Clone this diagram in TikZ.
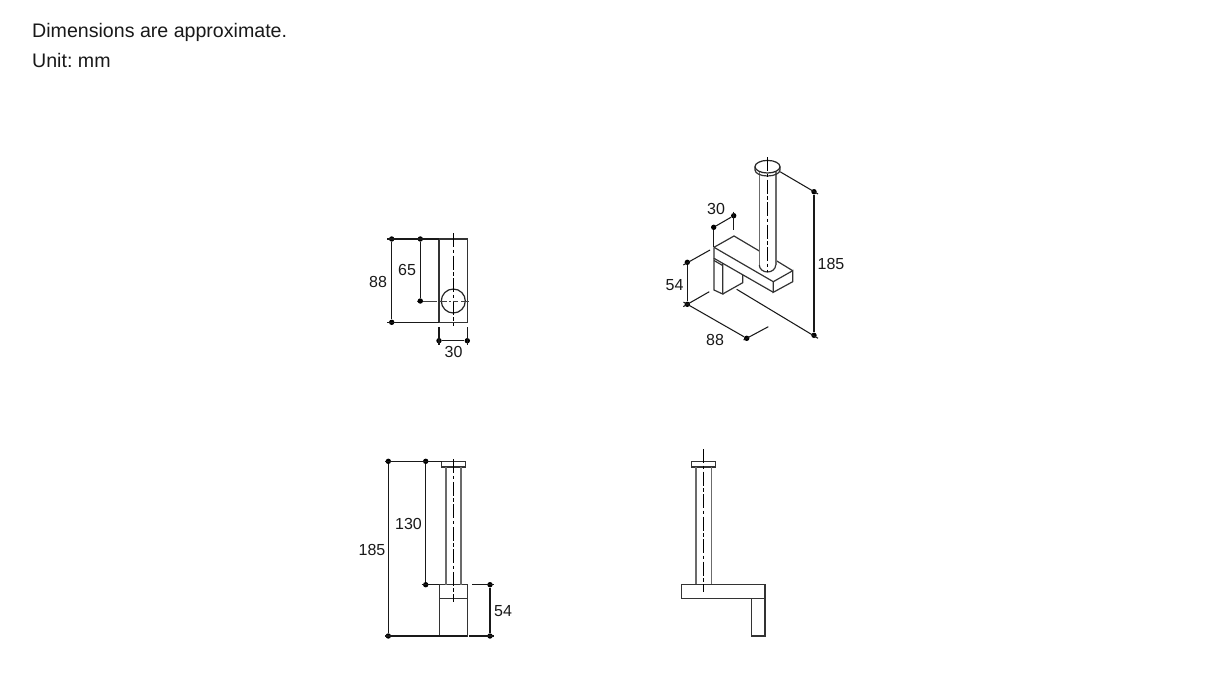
\documentclass[tikz,border=0pt]{standalone}
\usepackage{fontspec}
\usetikzlibrary{shapes.geometric}
\setmainfont{Liberation Sans}
\frenchspacing
\tikzset{
  ln/.style={line width=1.2pt,draw=black!80},
  gln/.style={line width=1.6pt,draw=black!58},
  dim/.style={line width=1.05pt,draw=black!90},
  cl/.style={line width=1pt,draw=black,dash pattern=on 14pt off 2.5pt on 3.5pt off 2.5pt},
  clh/.style={line width=1pt,draw=black!75,dash pattern=on 20pt off 3pt on 7pt off 2pt on 2pt off 2pt on 5pt off 3pt on 8pt off 3pt},
  dot/.style={circle,fill=black,inner sep=0pt,minimum size=5.4pt},
  lab/.style={inner sep=0pt,font=\fontsize{16}{18}\selectfont,text=black!90},
  txt/.style={inner sep=0pt,anchor=base west,font=\fontsize{19.6}{22}\selectfont,text=black!90}
}
\begin{document}
\begin{tikzpicture}[x=1pt,y=-1pt]
\useasboundingbox (0,0) rectangle (1218,683);
\fill[white] (0,0) rectangle (1218,683);
\node[txt] (t1) at (32,37) {Dimensions are approximate.};
\node[txt] (t2) at (32,67) {Unit: mm};

% --- top-left view
\coordinate (aTL) at (439,239); \coordinate (aTR) at (467.3,239);
\coordinate (aBL) at (439,322.3); \coordinate (aBR) at (467.3,322.3);
\draw[ln] (aTL) rectangle (aBR);
\node[circle,draw=black!85,line width=1.2pt,minimum size=24pt,inner sep=0pt] (aC) at (453.3,301) {};
\coordinate (aV1) at (453.3,233); \coordinate (aV2) at (453.3,326);
\coordinate (aH1) at (417,301); \coordinate (aH2) at (470.7,301);
\draw[cl] (aV1) -- (aV2);
\draw[clh] (aH1) -- (aH2);
\node[dot] (a1) at (391.7,239) {}; \node[dot] (a2) at (420.3,239) {};
\node[dot] (a3) at (420.3,301) {}; \node[dot] (a4) at (391.7,322.3) {};
\node[dot] (a5) at (439,340.7) {}; \node[dot] (a6) at (467.3,340.7) {};
\coordinate (aE1) at (387,239); \coordinate (aE2) at (387,322.3);
\coordinate (aE3) at (439,327); \coordinate (aE4) at (467.3,327);
\coordinate (aE5) at (439,345); \coordinate (aE6) at (467.3,345);
\draw[dim] (aE1) -- (aTL);
\draw[dim] (aE2) -- (aBL);
\draw[dim] (a1) -- (a4);
\draw[dim] (a2) -- (a3);
\draw[dim] (aE3) -- (aE5);
\draw[dim] (aE4) -- (aE6);
\draw[dim] (a5) -- (a6);
\node[lab] (l88a) at (378,281.5) {88};
\node[lab] (l65) at (407,270) {65};
\node[lab] (l30a) at (453.5,351.7) {30};

% --- isometric view
\coordinate (A) at (714,247.3); \coordinate (B) at (734,236);
\coordinate (C) at (792.7,270.7); \coordinate (D) at (773.3,281.7);
\coordinate (Ab) at (714,258.3); \coordinate (Db) at (773.3,292.3);
\coordinate (Cb) at (792.7,281.7);
\coordinate (W1) at (714,290); \coordinate (W2) at (722.7,294);
\coordinate (W3) at (722.7,263); \coordinate (W4) at (742.7,275);
\coordinate (W5) at (742.7,282.7);
\coordinate (W6) at (714,260.5); \coordinate (W7) at (722.7,265.5);
\coordinate (Bc) at (759.3,251); \coordinate (Cc) at (775.7,260.3);
\draw[ln] (A) -- (D) -- (C) -- (Cb) -- (Db) -- (D);
\draw[ln] (A) -- (Ab) -- (Db);
\draw[ln] (A) -- (B) -- (Bc);
\draw[ln] (Cc) -- (C);
\draw[ln] (Ab) -- (W1) -- (W2) -- (W3);
\draw[ln] (W2) -- (W5) -- (W4);
\draw[ln] (W6) -- (W7);
\draw[gln] (759.3,172) -- (759.3,265);
\draw[gln] (775.7,172) -- (775.7,265);
\draw[ln] (759.3,265) arc[start angle=180,end angle=0,x radius=8.2,y radius=7];
\draw[ln] (755,166.7) -- (755,170) arc[start angle=180,end angle=0,x radius=12.5,y radius=6] -- (780,166.7);
\node[ellipse,draw=black!85,line width=1.2pt,minimum width=25pt,minimum height=12.6pt,inner sep=0pt,fill=white] (cap) at (767.5,166.7) {};
\coordinate (iV1) at (767.4,157); \coordinate (iV2) at (767.4,272);
\draw[cl] (iV1) -- (iV2);
\node[dot] (i1) at (814,191.7) {}; \node[dot] (i2) at (814,335.3) {};
\node[dot] (i3) at (687.3,262.3) {}; \node[dot] (i4) at (687.3,304.3) {};
\node[dot] (i5) at (746.7,338.3) {};
\node[dot] (i6) at (713.7,227.3) {}; \node[dot] (i7) at (733.7,215.7) {};
\coordinate (iE1) at (780,171.7); \coordinate (iE2) at (818,194);
\coordinate (iE3) at (736.7,289.3); \coordinate (iE4) at (818,338.3);
\coordinate (iE5) at (710,250); \coordinate (iE6) at (683.3,265);
\coordinate (iE7) at (709.3,291.7); \coordinate (iE8) at (683.3,306.6);
\coordinate (iE9) at (768.3,326.7); \coordinate (iE10) at (743.5,340);
\coordinate (iE11) at (683.5,302.1);
\coordinate (iE12) at (713.7,246.7); \coordinate (iE13) at (733.7,211.7);
\coordinate (iE14) at (733.7,230);
\draw[dim] (iE1) -- (iE2);
\draw[dim] (i1) -- (i2);
\draw[dim] (iE3) -- (iE4);
\draw[dim] (iE5) -- (iE6);
\draw[dim] (iE7) -- (iE8);
\draw[dim] (i3) -- (i4);
\draw[dim] (iE11) -- (i5);
\draw[dim] (iE9) -- (iE10);
\draw[dim] (i6) -- (i7);
\draw[dim] (i6) -- (iE12);
\draw[dim] (iE13) -- (iE14);
\node[lab] (l30i) at (716,208.5) {30};
\node[lab] (l185i) at (831,264) {185};
\node[lab] (l54i) at (674.5,285) {54};
\node[lab] (l88i) at (715,339.5) {88};

% --- lower-left view
\coordinate (bCapA) at (441.7,461.3); \coordinate (bCapB) at (465.7,467);
\coordinate (bBlA) at (439.3,584.7); \coordinate (bBlB) at (467.3,636);
\draw[ln] (bCapA) rectangle (bCapB);
\draw[ln] (bBlA) rectangle (bBlB);
\draw[ln] (439.3,598.3) -- (467.3,598.3);
\draw[gln] (446,467) -- (446,584.7);
\draw[gln] (460.7,467) -- (460.7,584.7);
\coordinate (bV1) at (453.3,459.3); \coordinate (bV2) at (453.3,601.7);
\draw[cl] (bV1) -- (bV2);
\node[dot] (b1) at (388.3,461.3) {}; \node[dot] (b2) at (425.7,461.3) {};
\node[dot] (b3) at (425.7,584.7) {}; \node[dot] (b4) at (388.3,636) {};
\node[dot] (b5) at (490,584.7) {}; \node[dot] (b6) at (490,636) {};
\coordinate (bE1) at (385,461.3); \coordinate (bE2) at (421.7,584.7);
\coordinate (bE3) at (472.3,584.7); \coordinate (bE4) at (494.3,584.7);
\coordinate (bE5) at (385,636); \coordinate (bE6) at (469.3,636); \coordinate (bE7) at (494.3,636);
\draw[dim] (bE1) -- (bCapA);
\draw[dim] (bE2) -- (bBlA);
\draw[dim] (bE3) -- (bE4);
\draw[dim] (bE5) -- (bBlB);
\draw[dim] (bE6) -- (bE7);
\draw[dim] (b1) -- (b4);
\draw[dim] (b2) -- (b3);
\draw[dim] (b5) -- (b6);
\node[lab] (l130) at (408.5,523.5) {130};
\node[lab] (l185b) at (372,549.5) {185};
\node[lab] (l54b) at (503,611) {54};

% --- lower-right view
\draw[ln] (691.7,461.3) rectangle (715.3,467);
\draw[gln] (695.7,467) -- (695.7,584.7);
\draw[gln] (711.3,467) -- (711.3,584.7);
\draw[ln] (681.3,584.7) rectangle (765,598.3);
\draw[ln] (751.7,598.3) rectangle (765,636);
\coordinate (cV1) at (703.3,449); \coordinate (cV2) at (703.3,591.7);
\draw[cl] (cV1) -- (cV2);
\end{tikzpicture}
\end{document}
